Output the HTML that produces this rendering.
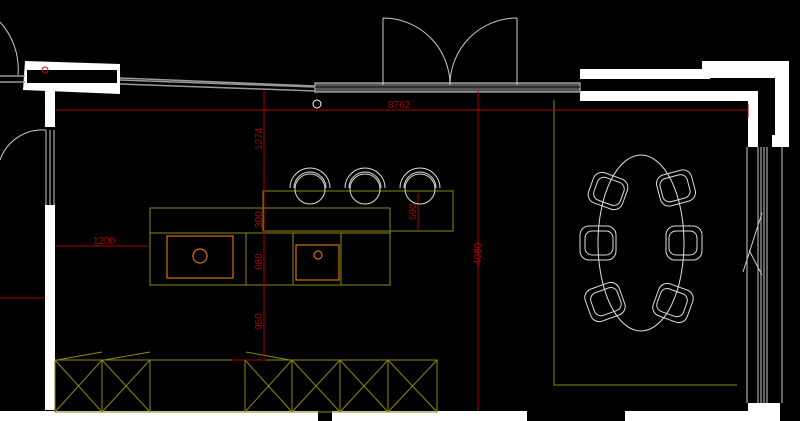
<!DOCTYPE html>
<html><head><meta charset="utf-8"><style>
html,body{margin:0;padding:0;background:#000;width:800px;height:421px;overflow:hidden}
svg{display:block}
text{font-family:"Liberation Sans",sans-serif;font-size:10px;fill:#b00000}
</style></head><body>
<svg width="800" height="421" viewBox="0 0 800 421" xmlns="http://www.w3.org/2000/svg">
<rect width="800" height="421" fill="#000"/>
<!-- walls -->
<g fill="#fff">
<polygon points="25,61 120,64 120,94 23,90"/>
<rect x="45" y="88" width="10" height="39"/>
<rect x="45" y="205" width="10" height="205"/>
<rect x="0" y="411" width="318" height="10"/>
<rect x="332" y="411" width="195" height="10"/>
<rect x="625" y="411" width="125" height="10"/>
<rect x="748" y="403" width="32" height="18"/>
<rect x="580" y="69" width="130" height="10"/>
<rect x="702" y="61" width="87" height="17"/>
<rect x="580" y="91" width="178" height="10"/>
<rect x="748" y="91" width="10" height="56"/>
<rect x="775" y="61" width="14" height="86"/>
<rect x="772" y="135" width="17" height="12"/>
</g>
<rect x="27" y="70" width="90" height="13" fill="#000"/>
<circle cx="45" cy="70" r="3" fill="none" stroke="#c00" stroke-width="1"/>
<!-- top window -->
<g stroke="#999" stroke-width="1.5" fill="none">
<line x1="120" y1="80" x2="315" y2="87"/>
<line x1="120" y1="84" x2="315" y2="91"/>
<line x1="120" y1="78" x2="315" y2="86"/>
<rect x="315" y="83" width="265" height="9" fill="#555"/>
<line x1="315" y1="87" x2="580" y2="87" stroke="#222"/>
<line x1="0" y1="76" x2="25" y2="76"/>
<line x1="0" y1="82" x2="25" y2="82"/>
</g>
<circle cx="317" cy="104" r="4" fill="none" stroke="#fff" stroke-width="1"/>
<!-- doors -->
<g stroke="#ccc" stroke-width="1" fill="none">
<line x1="383" y1="18" x2="383" y2="85"/>
<path d="M383,18 A67,67 0 0 1 450,85"/>
<line x1="517" y1="18" x2="517" y2="85"/>
<path d="M517,18 A67,67 0 0 0 450,85"/>
<path d="M0,22 A70,70 0 0 1 18,75"/>
<path d="M0,160 A45,45 0 0 1 46,130"/>
<line x1="46" y1="130" x2="46" y2="205"/>
<line x1="50" y1="130" x2="50" y2="205"/>
<line x1="54" y1="130" x2="54" y2="205"/>
<line x1="747" y1="147" x2="747" y2="403"/>
<line x1="782" y1="147" x2="782" y2="403"/>
<line x1="758" y1="147" x2="758" y2="403"/>
<line x1="761" y1="147" x2="761" y2="403"/>
<line x1="764" y1="147" x2="764" y2="403"/>
<line x1="767" y1="147" x2="767" y2="403"/>
<line x1="762" y1="213" x2="743" y2="272"/>
<line x1="749" y1="250" x2="762" y2="275"/>
</g>
<!-- yellow -->
<g stroke="#8a8a10" stroke-width="1" fill="none">
<rect x="263" y="191" width="190" height="40"/>
<rect x="150" y="208" width="240" height="77"/>
<line x1="150" y1="233" x2="390" y2="233"/>
<line x1="246" y1="233" x2="246" y2="285"/>
<line x1="293" y1="233" x2="293" y2="285"/>
<line x1="341" y1="233" x2="341" y2="285"/>
<polyline points="554,100 554,385 737,385"/>
<rect x="55" y="360" width="382" height="52"/>
<line x1="102" y1="360" x2="102" y2="412"/>
<line x1="150" y1="360" x2="150" y2="412"/>
<line x1="245" y1="360" x2="245" y2="412"/>
<line x1="292" y1="360" x2="292" y2="412"/>
<line x1="340" y1="360" x2="340" y2="412"/>
<line x1="388" y1="360" x2="388" y2="412"/>
<path d="M55,360 L102,412 M102,360 L55,412 M102,360 L150,412 M150,360 L102,412 M245,360 L292,412 M292,360 L245,412 M292,360 L340,412 M340,360 L292,412 M340,360 L388,412 M388,360 L340,412 M388,360 L437,412 M437,360 L388,412"/>
<line x1="57" y1="360" x2="102" y2="352"/>
<line x1="104" y1="360" x2="150" y2="352"/>
<line x1="246" y1="352" x2="290" y2="360"/>
</g>
<!-- red dims -->
<g stroke="#b00000" stroke-width="1" fill="none">
<line x1="55" y1="110" x2="748" y2="110"/>
<line x1="748" y1="104" x2="748" y2="118"/>
<line x1="264" y1="90" x2="264" y2="358"/>
<line x1="478" y1="91" x2="478" y2="411"/>
<line x1="55" y1="246" x2="148" y2="246"/>
<line x1="0" y1="298" x2="45" y2="298"/>
<line x1="418" y1="193" x2="418" y2="230"/>
<line x1="232" y1="360" x2="266" y2="360"/>
</g>
<text x="388" y="108">8762</text>
<text x="93" y="244">1200</text>
<text transform="translate(262,150) rotate(-90)">1274</text>
<text transform="translate(262,228) rotate(-90)">300</text>
<text transform="translate(262,270) rotate(-90)">680</text>
<text transform="translate(262,330) rotate(-90)">950</text>
<text transform="translate(481,265) rotate(-90)">4080</text>
<text transform="translate(416,220) rotate(-90)">590</text>
<!-- sinks -->
<g stroke="#d07010" stroke-width="1.2" fill="none">
<rect x="167" y="236" width="66" height="42"/>
<circle cx="200" cy="256" r="7"/>
<rect x="296" y="245" width="43" height="35"/>
<circle cx="318" cy="255" r="4"/>
</g>
<!-- stools -->
<g stroke="#ddd" stroke-width="1" fill="none">
<circle cx="310" cy="189" r="15"/><path d="M290,188 A20,20 0 0 1 330,188 M294,188 A16,16 0 0 1 326,188"/>
<circle cx="365" cy="189" r="15"/><path d="M345,188 A20,20 0 0 1 385,188 M349,188 A16,16 0 0 1 381,188"/>
<circle cx="420" cy="189" r="15"/><path d="M400,188 A20,20 0 0 1 440,188 M404,188 A16,16 0 0 1 436,188"/>
<!-- table -->
<ellipse cx="641" cy="243" rx="43" ry="88"/>
<g transform="translate(608,191) rotate(20)"><rect x="-18" y="-16" width="36" height="32" rx="9"/><rect x="-13" y="-12" width="28" height="24" rx="7"/></g>
<g transform="translate(676,188) rotate(-15)"><rect x="-18" y="-16" width="36" height="32" rx="9"/><rect x="-15" y="-12" width="28" height="24" rx="7"/></g>
<g transform="translate(598,243)"><rect x="-18" y="-17" width="36" height="34" rx="9"/><rect x="-13" y="-12" width="28" height="24" rx="7"/></g>
<g transform="translate(684,243)"><rect x="-18" y="-17" width="36" height="34" rx="9"/><rect x="-15" y="-12" width="28" height="24" rx="7"/></g>
<g transform="translate(605,302) rotate(-20)"><rect x="-18" y="-17" width="36" height="34" rx="9"/><rect x="-13" y="-12" width="28" height="24" rx="7"/></g>
<g transform="translate(673,303) rotate(20)"><rect x="-18" y="-17" width="36" height="34" rx="9"/><rect x="-15" y="-12" width="28" height="24" rx="7"/></g>
</g>
</svg>
</body></html>
